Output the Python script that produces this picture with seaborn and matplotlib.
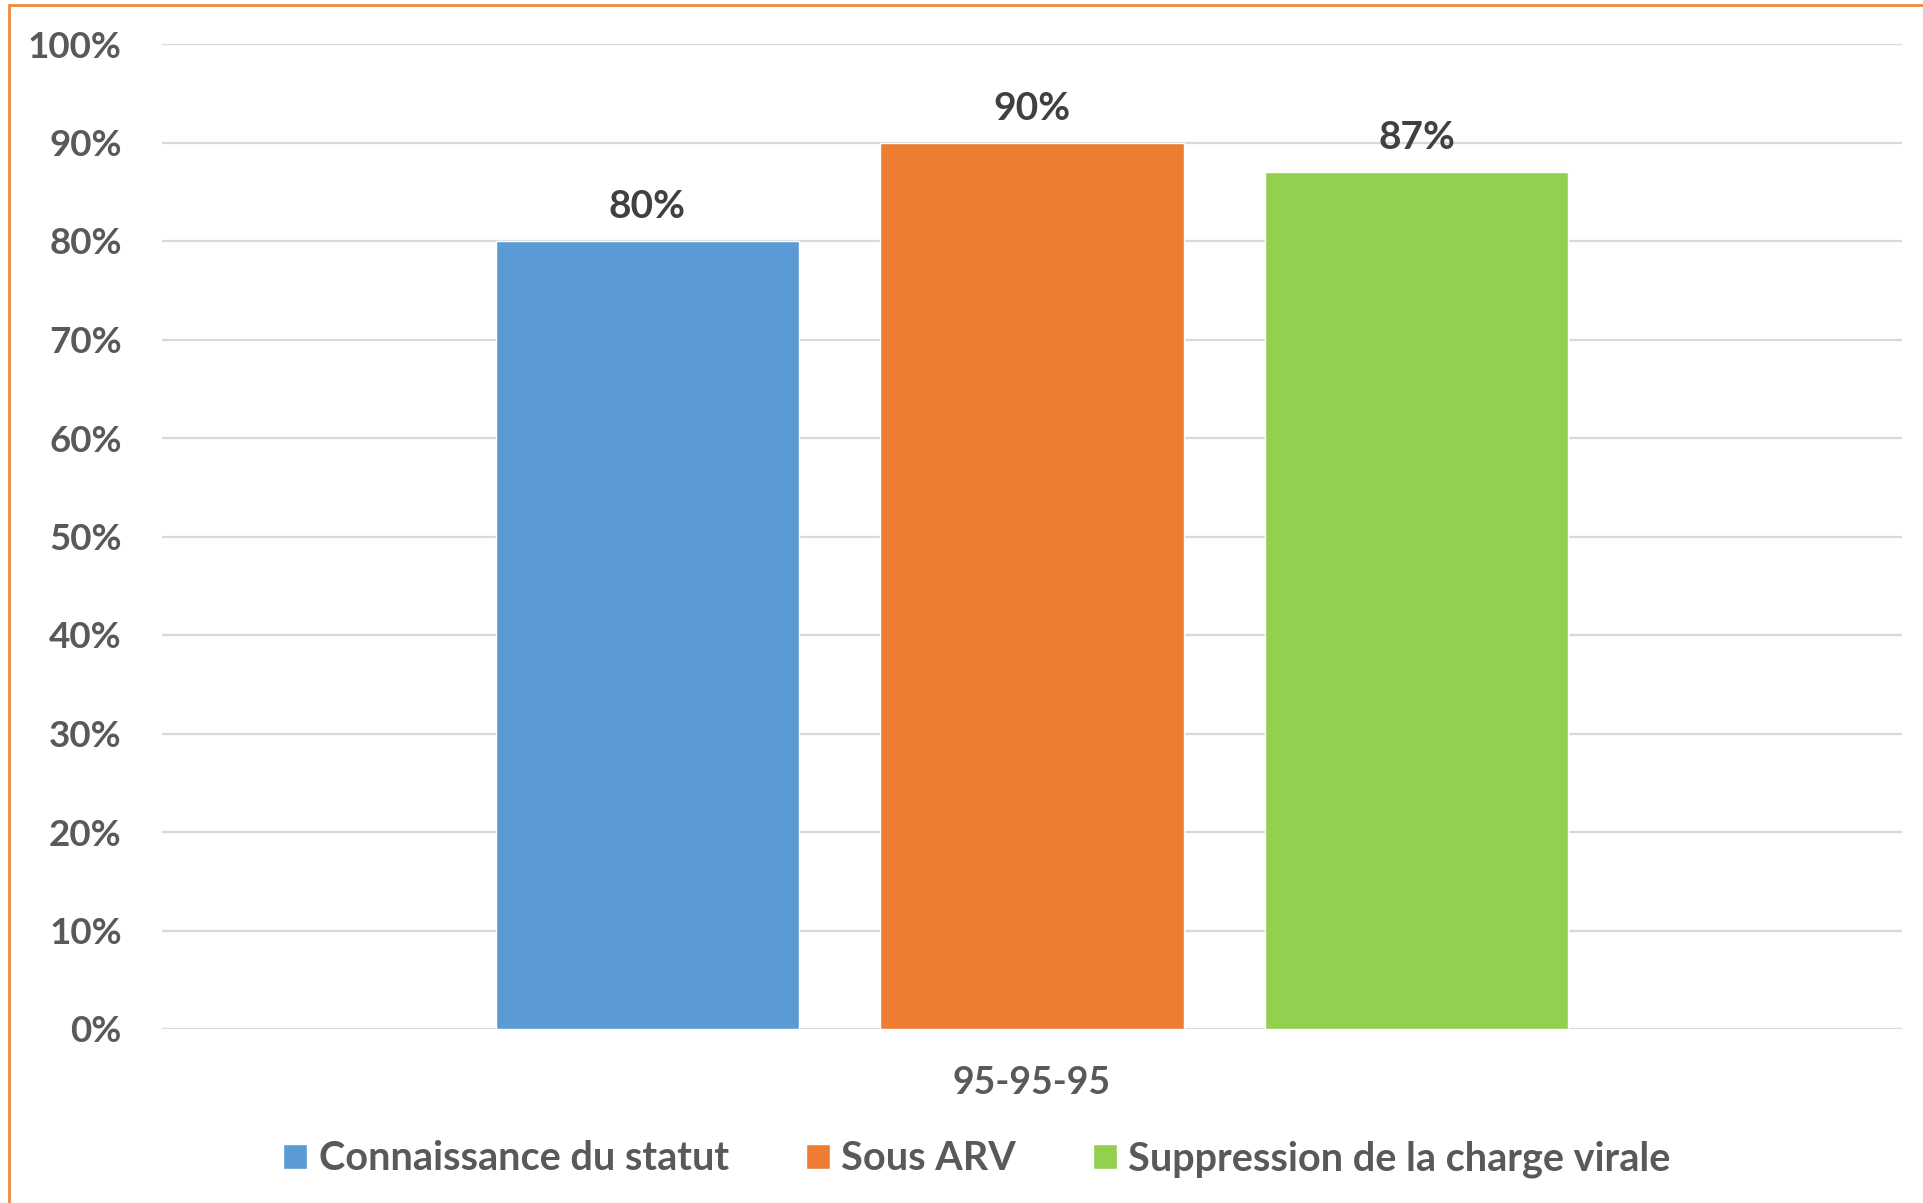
import matplotlib
matplotlib.use("Agg")
import matplotlib.pyplot as plt
from matplotlib.patches import Rectangle
import seaborn as sns
import pandas as pd

# ---- data ----
categories = ["95-95-95"]
series = ["Connaissance du statut", "Sous ARV", "Suppression de la charge virale"]
values = [80, 90, 87]
colors = ["#5B9BD5", "#ED7D31", "#92D050"]
yticks = [0, 10, 20, 30, 40, 50, 60, 70, 80, 90, 100]

df = pd.DataFrame({
    "group": [categories[0]] * len(series),
    "series": series,
    "value": values,
})

sns.set_theme(style="white")
plt.rcParams["font.family"] = ["Lato", "DejaVu Sans"]

W, H = 1924, 1203
fig = plt.figure(figsize=(W / 100, H / 100), dpi=100)
ax = fig.add_axes([162 / W, 1 - 1029 / H, (1902 - 162) / W, (1029 - 44) / H])

sns.barplot(data=df, x="group", y="value", hue="series", hue_order=series,
            palette=colors, width=0.663, gap=0.21, saturation=1, ax=ax)

handles, labels = ax.get_legend_handles_labels()
if ax.legend_ is not None:
    ax.legend_.remove()

ax.set_ylim(0, 100)
ax.set_xlim(-0.5, 0.5)
ax.set_yticks(yticks)
ax.set_yticklabels([f"{t}%" for t in yticks])
ax.yaxis.grid(True, color="#D9D9D9", linewidth=1.6)
ax.set_axisbelow(True)
for s in ax.spines.values():
    s.set_visible(False)
ax.set_xlabel("")
ax.set_ylabel("")
ax.tick_params(axis="y", length=0, pad=29, labelsize=26.5, labelcolor="#595959")
ax.tick_params(axis="x", length=0, pad=27, labelsize=27, labelcolor="#595959")
for lab in ax.get_yticklabels() + ax.get_xticklabels():
    lab.set_fontweight("bold")

for cont in ax.containers:
    ax.bar_label(cont, labels=[f"{v:.0f}%" for v in cont.datavalues],
                 padding=12, fontsize=28, fontweight="bold", color="#404040")

leg = fig.legend(handles, labels, loc="center", ncol=3,
                 bbox_to_anchor=(977 / W, 1 - 1159 / H), frameon=False,
                 prop={"size": 28.5, "weight": "bold"},
                 handlelength=0.61, handleheight=0.61, handletextpad=0.28,
                 columnspacing=1.95, borderaxespad=0, borderpad=0)
for t in leg.get_texts():
    t.set_color("#595959")

# orange outer frame (top and left visible)
fig.patches.append(Rectangle((9 / W, -0.1), 2.0, 1 - 5 / H + 0.1,
                             transform=fig.transFigure, fill=False,
                             edgecolor="#F0883E", linewidth=2))

fig.savefig("out.png", dpi=100, facecolor="white")
